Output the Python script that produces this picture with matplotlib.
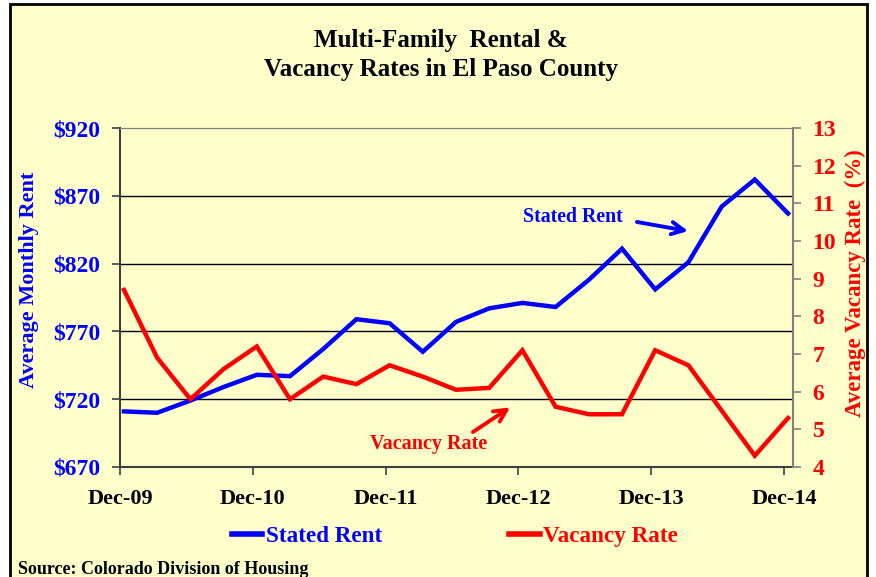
import numpy as np
import matplotlib
matplotlib.use("Agg")
import matplotlib.pyplot as plt
from matplotlib.patches import Rectangle
from matplotlib.lines import Line2D

# quarterly data, Dec-09 .. Dec-14
quarters = np.arange(21)
rent = [711, 710, 719, 729, 738, 737, 757, 779, 776, 755, 777, 787,
        791, 788, 808, 831, 801, 821, 862, 882, 857]
vacancy = [8.7, 6.9, 5.8, 6.6, 7.2, 5.8, 6.4, 6.2, 6.7, 6.4, 6.05, 6.1,
           7.1, 5.6, 5.4, 5.4, 7.1, 6.7, 5.5, 4.3, 5.3]
year_labels = ['Dec-09', 'Dec-10', 'Dec-11', 'Dec-12', 'Dec-13', 'Dec-14']
rent_ticks = [670, 720, 770, 820, 870, 920]
vac_ticks = list(range(4, 14))

BLUE = '#0000FF'
RED = '#FF0000'
BG = '#FFFFCC'
FONT = 'Liberation Serif'

plt.rcParams['font.family'] = FONT
plt.rcParams['font.weight'] = 'bold'

W, H = 876, 577
fig = plt.figure(figsize=(W / 100, H / 100), dpi=100, facecolor='white')

# yellow chart area with black border
fig.patches.append(Rectangle((10 / W, 1 - 600 / H), 857 / W, 596 / H,
                             transform=fig.transFigure, facecolor=BG,
                             edgecolor='black', linewidth=2, zorder=-5))

ax = fig.add_axes([120 / W, 1 - 467 / H, 673 / W, 339 / H])
ax.set_facecolor('none')
ax2 = ax.twinx()
ax2.patch.set_visible(False)

ax.plot(quarters, rent, color=BLUE, lw=3.2, solid_joinstyle='miter', zorder=3)
ax2.plot(quarters, vacancy, color=RED, lw=3.2, solid_joinstyle='miter', zorder=3)

ax.set_xlim(-0.12, 20.15)
ax.set_ylim(670, 920)
ax2.set_ylim(4, 13)

ax.set_xticks(np.arange(0, 21, 4) - 0.12)
ax.set_xticklabels(year_labels, fontsize=16, fontweight='bold', color='black')
ax.set_yticks(rent_ticks)
ax.set_yticklabels(['$%d' % v for v in rent_ticks], fontsize=17,
                   fontweight='bold', color=BLUE)
ax2.set_yticks(vac_ticks)
ax2.set_yticklabels([str(v) for v in vac_ticks], fontsize=17,
                    fontweight='bold', color=RED)

ax.tick_params(axis='x', length=6, width=1.2, color='#404040', pad=10)
ax.tick_params(axis='y', length=6, width=1.2, color='#404040', pad=8)
ax2.tick_params(axis='y', length=6, width=1.2, color='#808080', pad=8)

ax.yaxis.grid(True, color='black', lw=1)
gl = ax.get_ygridlines()
gl[0].set_visible(False)
gl[-1].set_visible(False)

for sp in ['left', 'bottom']:
    ax.spines[sp].set_color('#404040')
    ax.spines[sp].set_linewidth(1.5)
ax.spines['top'].set_color('#808080')
ax.spines['right'].set_visible(False)
ax2.spines['right'].set_color('#808080')
ax2.spines['right'].set_linewidth(1.5)
ax2.spines['top'].set_color('#808080')
ax2.spines['left'].set_visible(False)
ax2.spines['bottom'].set_visible(False)

# axis titles
fig.text(29 / W, 1 - 280 / H, 'Average Monthly Rent', rotation=90,
         ha='center', va='center', fontsize=16, fontweight='bold', color=BLUE)
fig.text(855 / W, 1 - 283 / H, 'Average Vacancy Rate  (%)', rotation=90,
         ha='center', va='center', fontsize=16.5, fontweight='bold', color=RED)

# title
fig.text(441 / W, 1 - 55 / H, 'Multi-Family  Rental &\nVacancy Rates in El Paso County',
         ha='center', va='center', fontsize=18, fontweight='bold',
         color='black', linespacing=1.32)

# in-plot annotations
ax.text(13.52, 854, 'Stated Rent', ha='center', va='center', fontsize=14.3,
        fontweight='bold', color=BLUE)
ax.annotate('', xy=(16.99, 844), xytext=(15.45, 850.7),
            arrowprops=dict(arrowstyle='->', lw=2.8, color=BLUE,
                            mutation_scale=22, shrinkA=0, shrinkB=0))
ax.text(9.19, 687, 'Vacancy Rate', ha='center', va='center', fontsize=14.5,
        fontweight='bold', color=RED)
ax.annotate('', xy=(11.63, 714), xytext=(10.51, 695.8),
            arrowprops=dict(arrowstyle='->', lw=2.8, color=RED,
                            mutation_scale=22, shrinkA=0, shrinkB=0))

# legend
handles = [Line2D([], [], color=BLUE, lw=4), Line2D([], [], color=RED, lw=4)]
leg = fig.legend(handles, ['Stated Rent', 'Vacancy Rate'], ncol=2,
                 loc='center', bbox_to_anchor=(455 / W, 1 - 536 / H),
                 frameon=False, fontsize=16.7, handlelength=1.3,
                 handletextpad=0.15, columnspacing=5.5)
for t, c in zip(leg.get_texts(), [BLUE, RED]):
    t.set_color(c)
    t.set_fontweight('bold')

fig.text(18 / W, 1 - 569 / H, 'Source: Colorado Division of Housing',
         ha='left', va='center', fontsize=13, fontweight='bold', color='black')

fig.savefig('out.png', dpi=100, facecolor=fig.get_facecolor())
